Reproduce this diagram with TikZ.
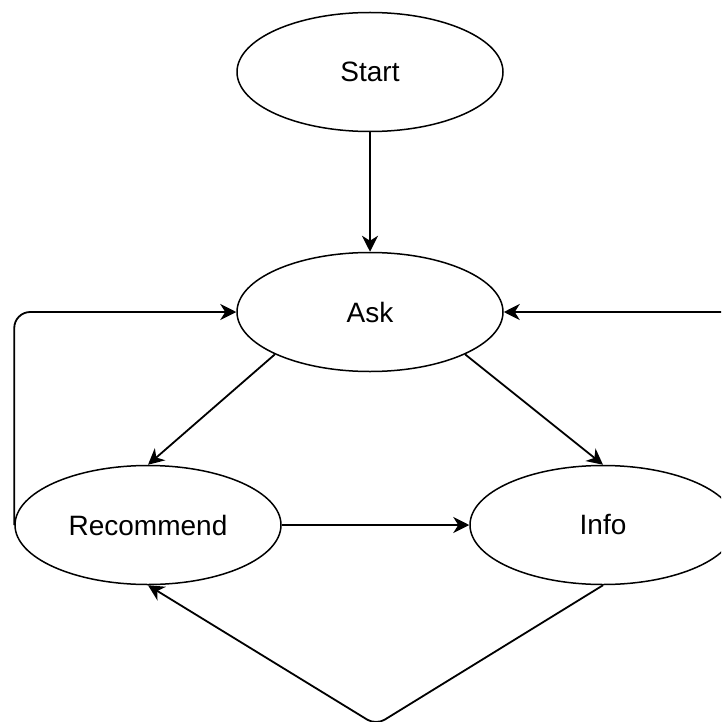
\documentclass[tikz,border=0pt]{standalone}
\usepackage{fontspec}
\setmainfont{Liberation Sans}
\usetikzlibrary{shapes.geometric,arrows.meta}

\begin{document}
\begin{tikzpicture}[x=1pt,y=-1pt,line width=1.5pt,
    state/.style={draw,ellipse,minimum width=266pt,minimum height=119pt,inner sep=0pt,font=\fontsize{28}{32}\selectfont},
    arr/.style={line width=1.8pt,-{Stealth[length=16pt,width=16pt,inset=5pt]}}]
    \useasboundingbox (0,0) rectangle (721,722);
    \clip (0,0) rectangle (721,722);
    \node[state] (start) at (370,72) {Start};
    \node[state] (ask) at (370,312) {Ask};
    \node[state] (rec) at (148,525) {Recommend};
    \node[state] (info) at (603,525) {Info};
    \coordinate (low) at (376,725);
    \coordinate (leftup) at (rec.west |- ask.west);
    \coordinate (rightup) at (info.east |- ask.east);
    \draw[arr] (start) -- (ask);
    \draw[arr] (ask.204) -- (rec.north);
    \draw[arr] (ask.336) -- (info.north);
    \draw[arr] (rec) -- (info);
    \draw[arr,rounded corners=10pt] (info.south) -- (low) -- (rec.south);
    \draw[arr,rounded corners=16pt] (rec.west) -- (leftup) -- (ask.west);
    \draw[arr,rounded corners=16pt] (info.east) -- (rightup) -- (ask.east);
  \end{tikzpicture}
\end{document}
